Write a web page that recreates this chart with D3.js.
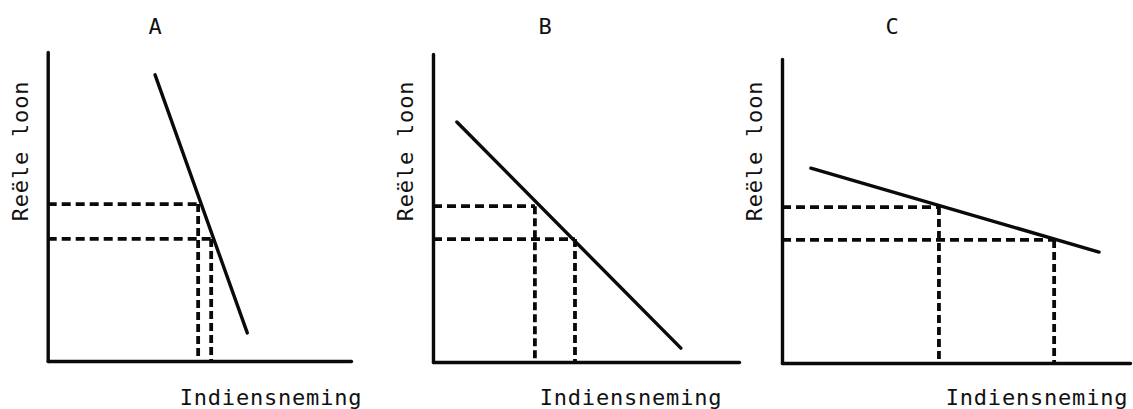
<!DOCTYPE html>
<html>
<head>
<meta charset="utf-8">
<script src="https://cdn.jsdelivr.net/npm/d3@7"></script>
<style>
  html, body { margin: 0; padding: 0; background: #fff; }
  svg { display: block; }
  text { font-family: "DejaVu Sans Mono", "Liberation Mono", monospace; fill: #111; }
</style>
</head>
<body>
<svg id="chart" width="1133" height="409"></svg>
<script>
// ---- Data (abstract units 0-100 on each axis) ----
const panelTitles = ["A", "B", "C"];
const xAxisLabel = "Indiensneming";
const yAxisLabel = "Reële loon";

// Demand line endpoints: [employment, real wage]
const demandStartA = [35.4, 92.6], demandEndA = [65.8, 9.1];
const demandStartB = [7.8, 77.9],  demandEndB = [81.0, 4.5];
const demandStartC = [8.3, 64.1],  demandEndC = [91.1, 36.5];

// Two real wage levels (high, low) and corresponding employment
const wagesA = [50.8, 39.5], employmentA = [49.6, 53.9];
const wagesB = [50.6, 39.9], employmentB = [33.3, 46.4];
const wagesC = [51.3, 40.5], employmentC = [45.1, 78.2];

// ---- Layout (pixels) ----
const layout = [
  { x0: 47.7, x1: 351, y0: 361, y1: 52, title: [155, 34], ylab: 28, xlabC: 271 },
  { x0: 433,  x1: 739, y0: 362, y1: 54, title: [545, 34], ylab: 413, xlabC: 631 },
  { x0: 782,  x1: 1130, y0: 363, y1: 59, title: [892, 34], ylab: 762, xlabC: 1037 }
];

const panels = [
  { start: demandStartA, end: demandEndA, wages: wagesA, emp: employmentA },
  { start: demandStartB, end: demandEndB, wages: wagesB, emp: employmentB },
  { start: demandStartC, end: demandEndC, wages: wagesC, emp: employmentC }
];

const svg = d3.select("#chart");
const ink = "#0a0a0a";

panels.forEach((p, i) => {
  const L = layout[i];
  const x = d3.scaleLinear().domain([0, 100]).range([L.x0, L.x1]);
  const y = d3.scaleLinear().domain([0, 100]).range([L.y0, L.y1]);
  const g = svg.append("g");

  // Title
  g.append("text")
    .attr("x", L.title[0]).attr("y", L.title[1])
    .attr("text-anchor", "middle")
    .attr("font-size", 22)
    .text(panelTitles[i]);

  // Axes (plain lines, no ticks)
  const xAxis = d3.axisBottom(x).tickValues([]).tickSizeOuter(0);
  const yAxis = d3.axisLeft(y).tickValues([]).tickSizeOuter(0);
  g.append("g").attr("transform", `translate(0,${L.y0})`).call(xAxis)
    .select(".domain").attr("stroke", ink).attr("stroke-width", 3.4).attr("stroke-linecap", "round");
  g.append("g").attr("transform", `translate(${L.x0},0)`).call(yAxis)
    .select(".domain").attr("stroke", ink).attr("stroke-width", 3.4).attr("stroke-linecap", "round");

  // Dashed guide lines
  p.wages.forEach((w, k) => {
    const e = p.emp[k];
    g.append("line")
      .attr("x1", x(0)).attr("y1", y(w))
      .attr("x2", x(e)).attr("y2", y(w))
      .attr("stroke", ink).attr("stroke-width", 3.8)
      .attr("stroke-dasharray", "9,5");
    g.append("line")
      .attr("x1", x(e)).attr("y1", y(w))
      .attr("x2", x(e)).attr("y2", y(0))
      .attr("stroke", ink).attr("stroke-width", 3.8)
      .attr("stroke-dasharray", "8,4");
  });

  // Demand line
  const line = d3.line().x(d => x(d[0])).y(d => y(d[1]));
  g.append("path")
    .datum([p.start, p.end])
    .attr("d", line)
    .attr("fill", "none")
    .attr("stroke", ink)
    .attr("stroke-width", 3.4)
    .attr("stroke-linecap", "round");

  // Axis labels
  g.append("text")
    .attr("x", L.xlabC).attr("y", 405)
    .attr("text-anchor", "middle")
    .attr("font-size", 22)
    .attr("letter-spacing", "0.8px")
    .text(xAxisLabel);

  g.append("text")
    .attr("transform", `translate(${L.ylab},151) rotate(-90)`)
    .attr("text-anchor", "middle")
    .attr("font-size", 22)
    .attr("letter-spacing", "0.8px")
    .text(yAxisLabel);
});
</script>
</body>
</html>
